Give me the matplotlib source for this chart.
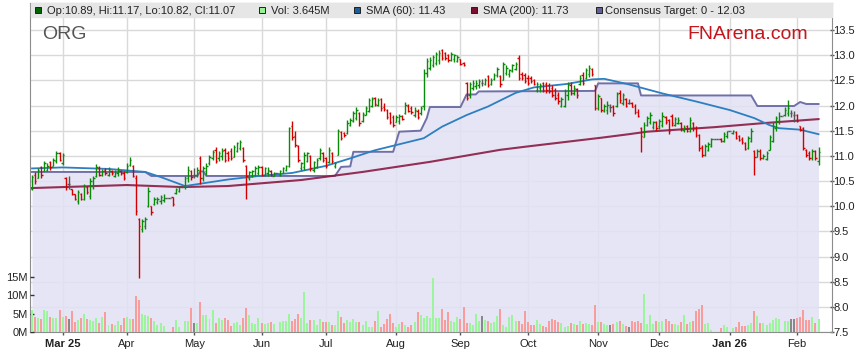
import numpy as np
import pandas as pd
import matplotlib
matplotlib.use('Agg')
import matplotlib.pyplot as plt
from matplotlib.collections import LineCollection
from matplotlib.patches import Rectangle

plt.rcParams['font.family'] = ['Liberation Sans', 'DejaVu Sans']

# trading days shown (weekdays, holidays appear as flat bars with no volume)
dates = pd.bdate_range('2025-02-17', '2026-02-11')

opens = [
    10.35, 10.62, 10.55, 10.78, 10.70, 10.72, 10.88, 10.80, 10.90, 11.05,
    10.85, 10.55, 10.45, 10.35, 10.25, 10.10, 10.25, 10.15, 10.38, 10.20,
    10.40, 10.60, 10.75, 10.62, 10.72, 10.62, 10.70, 10.60, 10.65, 10.70,
    10.65, 10.68, 10.82, 10.80, 10.55, 9.75, 9.55, 9.60, 10.00, 10.00,
    10.05, 10.08, 10.10, 10.12, 10.16, 10.16, 10.18, 10.27, 10.30, 10.38,
    10.40, 10.55, 10.70, 10.62, 10.62, 10.95, 10.55, 10.70, 10.85, 10.95,
    11.12, 10.95, 11.00, 11.12, 11.05, 11.10, 10.98, 11.10, 11.15, 11.15,
    10.80, 10.55, 10.60, 10.62, 10.65, 10.78, 10.62, 10.65, 10.70, 10.60,
    10.66, 10.62, 10.65, 10.72, 10.80, 11.60, 11.40, 11.20, 10.75, 10.78,
    10.90, 11.00, 10.72, 10.78, 10.95, 11.05, 10.95, 10.88, 11.05, 10.80,
    11.02, 11.48, 11.46, 11.45, 11.62, 11.70, 11.75, 11.85, 11.70, 11.82,
    11.90, 12.00, 12.15, 12.02, 12.12, 11.98, 11.92, 11.85, 11.78, 11.68,
    11.70, 11.80, 11.86, 12.00, 11.95, 11.82, 11.90, 11.85, 12.00, 12.65,
    12.75, 12.80, 12.85, 12.90, 13.10, 13.05, 13.00, 12.90, 12.92, 12.88,
    12.92, 12.85, 12.45, 12.20, 12.35, 12.38, 12.40, 12.45, 12.42, 12.58,
    12.42, 12.52, 12.60, 12.58, 12.50, 12.65, 12.62, 12.68, 12.72, 12.95,
    12.62, 12.60, 12.55, 12.55, 12.50, 12.30, 12.35, 12.45, 12.42, 12.40,
    12.35, 12.30, 12.20, 12.00, 12.00, 12.20, 12.40, 12.25, 12.32, 12.42,
    12.60, 12.55, 12.62, 12.72, 12.40, 11.95, 12.15, 11.90, 11.92, 11.98,
    12.00, 12.00, 12.25, 12.05, 12.12, 12.05, 12.05, 12.00, 11.88, 11.55,
    11.38, 11.62, 11.68, 11.58, 11.68, 11.60, 11.62, 11.78, 11.72, 11.80,
    11.62, 11.66, 11.65, 11.52, 11.60, 11.50, 11.65, 11.55, 11.42, 11.18,
    11.02, 11.12, 11.20, 11.34, 11.34, 11.34, 11.30, 11.40, 11.49, 11.45,
    11.48, 11.40, 11.34, 11.26, 11.15, 11.30, 11.10, 10.98, 11.10, 10.95,
    10.93, 11.12, 11.30, 11.55, 11.70, 11.80, 11.82, 11.85, 11.85, 11.82,
    11.82, 11.60, 11.55, 11.12, 11.05, 10.95, 11.10, 10.89,
]
highs = [
    10.62, 10.67, 10.75, 10.80, 10.89, 10.85, 10.90, 10.95, 11.09, 11.07,
    11.05, 10.57, 10.59, 10.35, 10.25, 10.32, 10.27, 10.45, 10.40, 10.55,
    10.60, 10.83, 10.79, 10.73, 10.75, 10.77, 10.72, 10.72, 10.77, 10.72,
    10.69, 10.85, 10.97, 10.82, 10.62, 9.76, 9.75, 9.79, 10.39, 10.00,
    10.19, 10.19, 10.22, 10.24, 10.16, 10.16, 10.19, 10.37, 10.40, 10.38,
    10.59, 10.79, 10.72, 10.75, 10.78, 11.00, 10.80, 10.85, 11.02, 11.12,
    11.17, 11.10, 11.15, 11.15, 11.10, 11.15, 11.21, 11.28, 11.31, 11.18,
    10.82, 10.70, 10.72, 10.80, 10.81, 10.80, 10.78, 10.78, 10.72, 10.68,
    10.66, 10.72, 10.78, 10.81, 11.58, 11.70, 11.50, 11.21, 10.88, 11.08,
    11.08, 11.02, 10.90, 10.95, 11.15, 11.08, 10.98, 11.18, 11.08, 10.88,
    11.54, 11.50, 11.48, 11.71, 11.76, 11.90, 11.97, 11.87, 11.88, 12.00,
    12.14, 12.17, 12.17, 12.14, 12.14, 12.05, 11.94, 11.87, 11.81, 11.81,
    11.84, 11.81, 12.07, 12.04, 12.00, 11.97, 11.94, 12.00, 12.73, 12.95,
    12.97, 13.00, 13.07, 13.10, 13.13, 13.07, 13.03, 13.07, 13.03, 13.00,
    12.93, 12.87, 12.47, 12.47, 12.50, 12.50, 12.52, 12.52, 12.55, 12.60,
    12.54, 12.64, 12.77, 12.60, 12.87, 12.80, 12.73, 12.83, 12.87, 13.00,
    12.67, 12.64, 12.60, 12.58, 12.53, 12.47, 12.44, 12.47, 12.47, 12.44,
    12.40, 12.34, 12.27, 12.17, 12.33, 12.47, 12.47, 12.40, 12.34, 12.60,
    12.67, 12.75, 12.80, 12.75, 12.41, 12.22, 12.15, 12.04, 12.08, 12.04,
    12.02, 12.27, 12.30, 12.25, 12.14, 12.12, 12.07, 12.04, 11.94, 11.57,
    11.67, 11.80, 11.87, 11.70, 11.70, 11.74, 11.87, 11.80, 11.74, 11.84,
    11.77, 11.77, 11.67, 11.62, 11.61, 11.77, 11.67, 11.60, 11.44, 11.21,
    11.24, 11.27, 11.36, 11.34, 11.34, 11.36, 11.47, 11.50, 11.49, 11.52,
    11.49, 11.41, 11.38, 11.28, 11.40, 11.55, 11.11, 11.14, 11.14, 11.04,
    11.10, 11.41, 11.67, 11.80, 11.87, 11.80, 11.97, 12.10, 11.92, 11.90,
    11.84, 11.60, 11.57, 11.14, 11.10, 11.14, 11.12, 11.17,
]
lows = [
    10.32, 10.45, 10.55, 10.55, 10.69, 10.69, 10.72, 10.79, 10.85, 10.89,
    10.82, 10.32, 10.35, 10.22, 10.12, 10.05, 10.12, 10.12, 10.25, 10.15,
    10.35, 10.57, 10.59, 10.60, 10.62, 10.59, 10.62, 10.57, 10.60, 10.62,
    10.52, 10.65, 10.79, 10.57, 9.82, 8.58, 9.49, 9.55, 9.99, 9.82,
    10.02, 10.04, 10.05, 10.09, 10.16, 10.16, 10.00, 10.25, 10.29, 10.38,
    10.35, 10.49, 10.52, 10.55, 10.58, 10.45, 10.50, 10.62, 10.82, 10.92,
    10.85, 10.90, 10.92, 10.88, 10.90, 10.91, 10.97, 11.08, 11.11, 10.88,
    10.15, 10.52, 10.57, 10.60, 10.61, 10.60, 10.60, 10.60, 10.60, 10.60,
    10.66, 10.60, 10.65, 10.70, 10.78, 11.31, 11.18, 10.88, 10.72, 10.72,
    10.88, 10.70, 10.68, 10.75, 10.92, 10.88, 10.75, 10.85, 10.85, 10.75,
    11.01, 11.31, 11.38, 11.44, 11.60, 11.68, 11.72, 11.60, 11.68, 11.81,
    11.88, 11.97, 12.00, 12.00, 11.90, 11.90, 11.74, 11.64, 11.58, 11.67,
    11.64, 11.72, 11.84, 11.87, 11.84, 11.78, 11.74, 11.82, 11.91, 12.57,
    12.70, 12.77, 12.80, 12.83, 12.90, 12.90, 12.87, 12.88, 12.87, 12.87,
    12.80, 12.78, 12.10, 12.15, 12.30, 12.32, 12.35, 12.38, 12.40, 12.37,
    12.40, 12.50, 12.57, 12.37, 12.50, 12.60, 12.57, 12.67, 12.70, 12.50,
    12.50, 12.44, 12.40, 12.44, 12.40, 12.27, 12.27, 12.27, 12.25, 12.25,
    12.17, 12.10, 12.04, 11.97, 11.97, 12.10, 12.20, 12.20, 12.14, 12.40,
    12.41, 12.52, 12.57, 12.58, 11.91, 11.91, 11.87, 11.88, 11.84, 11.87,
    11.80, 11.98, 12.05, 12.02, 11.97, 12.03, 11.97, 11.84, 11.77, 11.08,
    11.37, 11.60, 11.64, 11.54, 11.50, 11.54, 11.57, 11.64, 11.44, 11.60,
    11.60, 11.64, 11.50, 11.47, 11.47, 11.47, 11.50, 11.37, 11.10, 10.98,
    11.00, 11.10, 11.18, 11.34, 11.34, 11.27, 11.27, 11.35, 11.49, 11.43,
    11.33, 11.30, 11.24, 11.11, 11.14, 11.27, 10.61, 10.98, 10.91, 10.94,
    10.91, 11.11, 11.27, 11.50, 11.64, 11.80, 11.80, 11.80, 11.78, 11.67,
    11.67, 11.50, 11.11, 10.98, 10.91, 10.91, 10.92, 10.82,
]
closes = [
    10.58, 10.50, 10.72, 10.62, 10.85, 10.80, 10.78, 10.92, 11.05, 10.92,
    11.02, 10.38, 10.45, 10.25, 10.15, 10.28, 10.15, 10.40, 10.28, 10.50,
    10.55, 10.78, 10.62, 10.70, 10.65, 10.72, 10.65, 10.68, 10.72, 10.65,
    10.55, 10.80, 10.92, 10.60, 9.90, 9.60, 9.70, 9.75, 10.30, 9.88,
    10.15, 10.15, 10.18, 10.16, 10.16, 10.16, 10.05, 10.35, 10.38, 10.38,
    10.55, 10.72, 10.58, 10.62, 10.72, 10.55, 10.75, 10.80, 10.98, 11.08,
    10.90, 11.05, 11.10, 10.92, 10.95, 10.95, 11.18, 11.25, 11.28, 10.92,
    10.60, 10.68, 10.70, 10.75, 10.78, 10.62, 10.75, 10.72, 10.62, 10.66,
    10.66, 10.70, 10.75, 10.80, 11.55, 11.38, 11.22, 10.92, 10.85, 11.02,
    11.05, 10.75, 10.88, 10.92, 11.12, 10.92, 10.80, 11.12, 10.90, 10.86,
    11.50, 11.36, 11.42, 11.66, 11.72, 11.86, 11.92, 11.65, 11.84, 11.96,
    12.10, 12.12, 12.04, 12.10, 11.95, 11.93, 11.78, 11.68, 11.62, 11.78,
    11.80, 11.74, 12.02, 11.90, 11.88, 11.92, 11.78, 11.96, 12.65, 12.88,
    12.90, 12.97, 13.02, 13.05, 12.95, 12.95, 12.90, 13.02, 13.00, 12.97,
    12.83, 12.80, 12.15, 12.42, 12.45, 12.45, 12.48, 12.45, 12.50, 12.40,
    12.50, 12.60, 12.72, 12.42, 12.82, 12.75, 12.70, 12.80, 12.83, 12.55,
    12.55, 12.48, 12.45, 12.48, 12.43, 12.42, 12.40, 12.30, 12.30, 12.28,
    12.20, 12.15, 12.08, 12.12, 12.28, 12.42, 12.25, 12.35, 12.20, 12.55,
    12.45, 12.70, 12.75, 12.62, 11.95, 12.18, 11.92, 12.00, 12.02, 11.98,
    11.85, 12.22, 12.10, 12.20, 12.00, 12.05, 11.98, 11.88, 11.80, 11.40,
    11.62, 11.75, 11.82, 11.68, 11.55, 11.70, 11.80, 11.68, 11.50, 11.65,
    11.74, 11.72, 11.55, 11.58, 11.50, 11.72, 11.55, 11.42, 11.15, 11.02,
    11.20, 11.24, 11.34, 11.34, 11.34, 11.30, 11.44, 11.49, 11.49, 11.50,
    11.36, 11.32, 11.27, 11.14, 11.36, 11.50, 10.98, 11.10, 10.95, 11.00,
    11.05, 11.38, 11.60, 11.75, 11.80, 11.80, 11.92, 11.95, 11.85, 11.82,
    11.70, 11.52, 11.15, 11.02, 10.95, 11.10, 10.96, 11.07,
]
volume_m = [
    5.9, 4.1, 3.7, 3.5, 6.1, 5.6, 4.1, 3.7, 3.7, 6.1,
    4.1, 4.4, 3.5, 5.8, 2.7, 3.3, 3.8, 4.9, 3.5, 3.2,
    3.0, 3.7, 2.5, 4.1, 5.4, 2.0, 2.3, 2.0, 2.9, 2.0,
    3.9, 4.2, 3.5, 3.5, 9.8, 8.7, 4.8, 4.6, 4.4, 3.7,
    2.9, 2.0, 2.5, 1.7, 0, 0, 1.4, 3.4, 1.3, 0,
    3.1, 3.1, 6.5, 2.5, 2.5, 8.3, 4.6, 4.6, 3.5, 6.1,
    2.5, 3.7, 3.3, 3.7, 3.3, 1.7, 2.5, 2.8, 2.0, 3.9,
    6.5, 4.6, 2.5, 2.2, 3.9, 2.5, 2.3, 2.5, 2.8, 2.3,
    0, 2.7, 2.9, 2.9, 4.9, 3.0, 3.5, 5.0, 3.8, 10.8,
    2.5, 3.2, 3.2, 2.0, 3.5, 2.7, 2.7, 2.7, 1.9, 1.9,
    5.8, 4.1, 2.5, 3.3, 2.7, 3.5, 2.8, 2.8, 1.8, 3.1,
    1.5, 1.5, 2.9, 5.6, 1.5, 2.1, 3.5, 4.9, 2.5, 1.5,
    2.2, 2.8, 2.0, 1.5, 1.8, 2.8, 5.4, 4.6, 3.8, 4.4,
    3.75, 14.7, 3.9, 3.9, 6.3, 3.2, 5.4, 2.9, 2.7, 4.2,
    3.5, 6.9, 2.5, 2.5, 1.8, 4.9, 3.0, 4.4, 3.3, 3.0,
    2.5, 2.6, 4.3, 6.3, 2.0, 1.25, 4.2, 4.6, 3.1, 2.9,
    2.1, 5.8, 2.7, 1.8, 1.8, 3.3, 2.1, 1.7, 1.5, 2.9,
    3.5, 3.2, 2.7, 2.4, 1.5, 1.7, 2.5, 2.3, 1.9, 3.0,
    2.3, 2.4, 2.1, 2.0, 7.3, 2.6, 2.6, 2.1, 2.0, 2.0,
    2.2, 2.7, 3.0, 2.1, 1.7, 1.5, 2.9, 2.7, 3.1, 2.5,
    10.4, 2.2, 4.7, 2.2, 2.9, 2.7, 2.9, 3.5, 2.9, 2.1,
    2.3, 2.0, 2.7, 4.6, 2.1, 2.7, 2.9, 5.8, 6.3, 7.5,
    2.2, 2.5, 0.6, 0, 0, 1.1, 1.9, 1.4, 0, 1.1,
    1.3, 2.7, 1.7, 1.7, 2.0, 2.5, 5.6, 4.4, 2.5, 2.5,
    2.0, 2.5, 3.3, 3.7, 3.5, 0, 3.0, 3.0, 3.5, 3.5,
    3.7, 4.2, 6.1, 3.3, 3.3, 4.2, 2.5, 3.645,
]

sma60_dates = ['2025-02-17', '2025-03-03', '2025-03-24', '2025-04-09', '2025-04-16',
               '2025-04-28', '2025-05-16', '2025-05-30', '2025-06-16', '2025-07-01',
               '2025-07-11', '2025-07-23', '2025-07-31', '2025-08-14', '2025-08-22',
               '2025-09-03', '2025-09-12', '2025-09-25', '2025-10-03', '2025-10-20',
               '2025-10-30', '2025-11-05', '2025-11-17', '2025-12-02', '2025-12-17',
               '2026-01-01', '2026-01-13', '2026-01-20', '2026-01-23', '2026-02-03',
               '2026-02-11']
sma60_vals = [10.75, 10.77, 10.74, 10.68, 10.58, 10.40, 10.53, 10.60, 10.66, 10.80,
              10.95, 11.11, 11.20, 11.35, 11.58, 11.81, 11.98, 12.25, 12.36, 12.43,
              12.52, 12.53, 12.42, 12.24, 12.08, 11.91, 11.75, 11.61, 11.55, 11.52,
              11.43]

sma200_dates = ['2025-02-17', '2025-04-01', '2025-04-25', '2025-05-16', '2025-06-19',
                '2025-07-17', '2025-08-18', '2025-09-18', '2025-09-30', '2025-10-24',
                '2025-11-04', '2025-11-17', '2025-11-25', '2025-12-25', '2026-01-16',
                '2026-02-11']
sma200_vals = [10.36, 10.42, 10.38, 10.40, 10.52, 10.68, 10.88, 11.12, 11.18, 11.31,
               11.36, 11.43, 11.48, 11.57, 11.65, 11.73]

target_dates = ['2025-02-17', '2025-04-09', '2025-04-11', '2025-05-02', '2025-05-05',
                '2025-05-06', '2025-05-07', '2025-07-04', '2025-07-08', '2025-07-11',
                '2025-07-14', '2025-07-31', '2025-08-04', '2025-08-13', '2025-08-15',
                '2025-08-18', '2025-09-01', '2025-09-03', '2025-09-08', '2025-09-09',
                '2025-10-31', '2025-11-03', '2025-11-20', '2025-11-21', '2026-01-12',
                '2026-01-14', '2026-01-30', '2026-02-03', '2026-02-05', '2026-02-11']
target_vals = [10.68, 10.68, 10.60, 10.60, 10.69, 10.69, 10.60, 10.60, 10.78, 10.79,
               11.08, 11.08, 11.48, 11.50, 11.75, 11.97, 11.97, 12.22, 12.22, 12.28,
               12.29, 12.44, 12.44, 12.20, 12.20, 11.99, 11.99, 12.07, 12.03, 12.03]

o, h, l, c = (np.array(v) for v in (opens, highs, lows, closes))
vol = np.array(volume_m)
x = np.arange(len(dates))

def pos(ds):
    return dates.get_indexer(pd.to_datetime(ds))

fig = plt.figure(figsize=(8.59, 3.63), dpi=100)
ax = fig.add_axes([30 / 859, 31 / 363, 802 / 859, 329 / 363])
ax.set_xlim(-0.65, 261.4)
ax.set_ylim(7.5, 7.5 + 329 / 50.33)

# grid
yt = np.arange(7.5, 13.51, 0.5)
ax.set_yticks(yt)
ax.set_yticklabels([f'{v:.1f}' for v in yt])
chg = np.flatnonzero(dates.month[1:] != dates.month[:-1]) + 1
labels = [d.strftime('%b %y') if (k == 0 or d.month == 1) else d.strftime('%b')
          for k, d in enumerate(dates[chg])]
ax.set_xticks(chg)
ax.set_xticklabels(labels)
for t in ax.get_xticklabels():
    if ' ' in t.get_text():
        t.set_fontweight('bold')
ax.grid(True, color='#d9d9d9', linewidth=1.0, zorder=0)
ax.set_axisbelow(True)

# consensus target area
tx = pos(target_dates)
ax.fill_between(tx, target_vals, 7.5, color='#e2e2f4', alpha=0.88, lw=0, zorder=1)
ax.plot(tx, target_vals, color='#7070a8', lw=1.4, zorder=2)
ax.plot(pos(sma200_dates), sma200_vals, color='#8a1a42', lw=1.5, alpha=0.9, zorder=2)
ax.plot(pos(sma60_dates), sma60_vals, color='#2c7fc0', lw=1.3, zorder=2)

# OHLC bars
up = c > o
dn = c < o
bar_col = np.where(up, '#0a8a0a', np.where(dn, '#d40000', '#555555'))
segs, cols = [], []
for xi, oi, hi, li, ci, col in zip(x, o, h, l, c, bar_col):
    segs += [[(xi, li), (xi, hi)], [(xi - 0.45, oi), (xi, oi)], [(xi, ci), (xi + 0.45, ci)]]
    cols += [col] * 3
ax.add_collection(LineCollection(segs, colors=cols, linewidths=1.0, zorder=4))

for s in ax.spines.values():
    s.set_color('#8c8c8c')

# volume
ax2 = ax.twinx()
ax2.set_ylim(0, 15 * 329 / 55)
vcol = np.where(up, '#9cf59c', np.where(dn, '#f89c9c', '#888888'))
ax2.bar(x, vol, width=0.65, color=vcol, linewidth=0, zorder=3)
ax2.set_yticks([0, 5, 10, 15])
ax2.set_yticklabels(['0M', '5M', '10M', '15M'])
for s in ax2.spines.values():
    s.set_visible(False)
ax2.set_xlim(ax.get_xlim())

# twinx moves the price axis to the left: put it back on the right
ax.yaxis.set_ticks_position('right')
ax.yaxis.set_label_position('right')
ax2.yaxis.set_ticks_position('left')
ax2.yaxis.set_label_position('left')
ax.tick_params(axis='y', which='both', left=False, labelleft=False, right=True,
               labelright=True, direction='inout', length=3, width=1, color='#555555',
               labelsize=8, pad=-0.5, labelcolor='#222222')
ax.tick_params(axis='x', direction='out', length=2.2, width=1, color='#555555',
               labelsize=8, pad=2.5, labelcolor='#222222')
ax2.tick_params(axis='y', which='both', right=False, labelright=False, left=True,
                labelleft=True, direction='in', length=2.9, width=1, color='#333333',
                labelsize=8, pad=1.5, labelcolor='#222222')

# header bar with legend
W, H = 859, 363
fig.patches.append(Rectangle((30.5 / W, 1 - 16.7 / H), 801 / W, 13.2 / H,
                             transform=fig.transFigure, color='#e6e6e6', zorder=1))
sma60_last = sma60_vals[-1]
sma200_last = sma200_vals[-1]
items = [
    (35, 47, '#006400', f'Op:{o[-1]:.2f}, Hi:{h[-1]:.2f}, Lo:{l[-1]:.2f}, Cl:{c[-1]:.2f}'),
    (259, 271, '#98f098', f'Vol: {vol[-1]:.3f}M'),
    (354, 366, '#1a5e9a', f'SMA (60): {sma60_last:.2f}'),
    (471, 483, '#7a1030', f'SMA (200): {sma200_last:.2f}'),
    (596, 605, '#60609a', f'Consensus Target: 0 - {target_vals[-1]:.2f}'),
]
for sx, txx, col, txt in items:
    fig.patches.append(Rectangle((sx / W, 1 - 12.8 / H), 5.5 / W, 5.5 / H,
                                 transform=fig.transFigure, facecolor=col,
                                 edgecolor='#202020', lw=0.7, zorder=2))
    fig.text(txx / W, 1 - 14 / H, txt, fontsize=8, color='#222222', va='baseline', zorder=3)

fig.text(42 / W, 1 - 39.3 / H, 'ORG', fontsize=14, color='#555555', va='baseline')
fig.text(808 / W, 1 - 39.3 / H, 'FNArena.com', fontsize=14, color='#c4161c',
         va='baseline', ha='right')

fig.savefig('out.png', dpi=100)
